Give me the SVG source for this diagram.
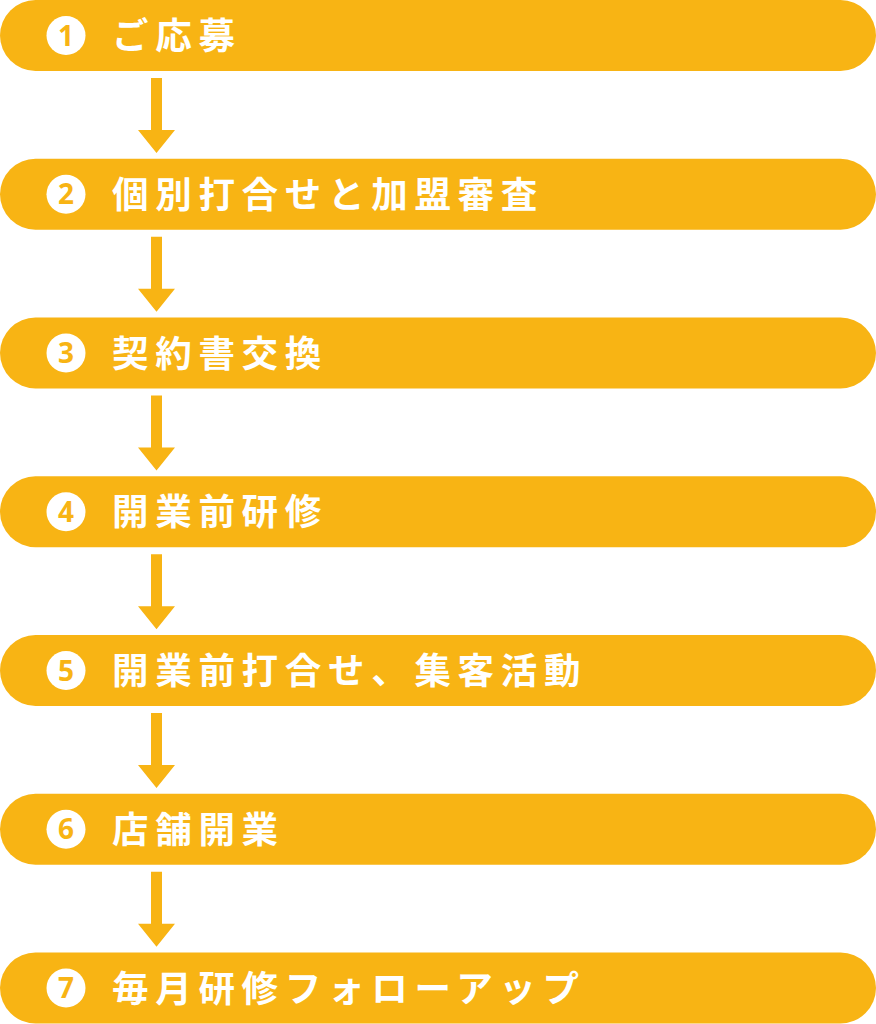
<svg xmlns="http://www.w3.org/2000/svg" width="876" height="1024" viewBox="0 0 876 1024">
<defs>
<style>
.bar{fill:#F8B414}
.num{fill:#fff}
.dg{fill:#F8B414;font-family:"Noto Sans","Noto Sans CJK JP",sans-serif;font-weight:700;font-size:28px;text-anchor:middle}
.lb{fill:#fff;font-family:"Noto Sans CJK JP",sans-serif;font-weight:700;font-size:36.5px;letter-spacing:6.7px}
.ar{fill:#F8B414}
</style>
<g id="arrowShape"><path id="arr" d="M151 0 H162 V52 H175 L156.5 75 L138 52 H151 Z"/></g>
</defs>
<g id="n1" transform="translate(0,0)"><rect class="bar" x="0" y="0" width="876" height="71" rx="35.5"/><circle class="num" cx="66" cy="35.5" r="19.5"/><text class="dg" x="66" y="45.5">1</text><text class="lb" x="112" y="49">ご応募</text></g>
<g id="n2" transform="translate(0,158.75)"><rect class="bar" x="0" y="0" width="876" height="71" rx="35.5"/><circle class="num" cx="66" cy="35.5" r="19.5"/><text class="dg" x="66" y="45.5">2</text><text class="lb" x="112" y="49">個別打合せと加盟審査</text></g>
<g id="n3" transform="translate(0,317.5)"><rect class="bar" x="0" y="0" width="876" height="71" rx="35.5"/><circle class="num" cx="66" cy="35.5" r="19.5"/><text class="dg" x="66" y="45.5">3</text><text class="lb" x="112" y="49">契約書交換</text></g>
<g id="n4" transform="translate(0,476.25)"><rect class="bar" x="0" y="0" width="876" height="71" rx="35.5"/><circle class="num" cx="66" cy="35.5" r="19.5"/><text class="dg" x="66" y="45.5">4</text><text class="lb" x="112" y="49">開業前研修</text></g>
<g id="n5" transform="translate(0,635)"><rect class="bar" x="0" y="0" width="876" height="71" rx="35.5"/><circle class="num" cx="66" cy="35.5" r="19.5"/><text class="dg" x="66" y="45.5">5</text><text class="lb" x="112" y="49">開業前打合せ、集客活動</text></g>
<g id="n6" transform="translate(0,793.75)"><rect class="bar" x="0" y="0" width="876" height="71" rx="35.5"/><circle class="num" cx="66" cy="35.5" r="19.5"/><text class="dg" x="66" y="45.5">6</text><text class="lb" x="112" y="49">店舗開業</text></g>
<g id="n7" transform="translate(0,952.5)"><rect class="bar" x="0" y="0" width="876" height="71" rx="35.5"/><circle class="num" cx="66" cy="35.5" r="19.5"/><text class="dg" x="66" y="45.5">7</text><text class="lb" x="112" y="49">毎月研修フォローアップ</text></g>
<g id="connectors" class="ar">
<use href="#arr" y="78"/>
<use href="#arr" y="236.75"/>
<use href="#arr" y="395.5"/>
<use href="#arr" y="554.25"/>
<use href="#arr" y="713"/>
<use href="#arr" y="871.75"/>
</g>
</svg>
